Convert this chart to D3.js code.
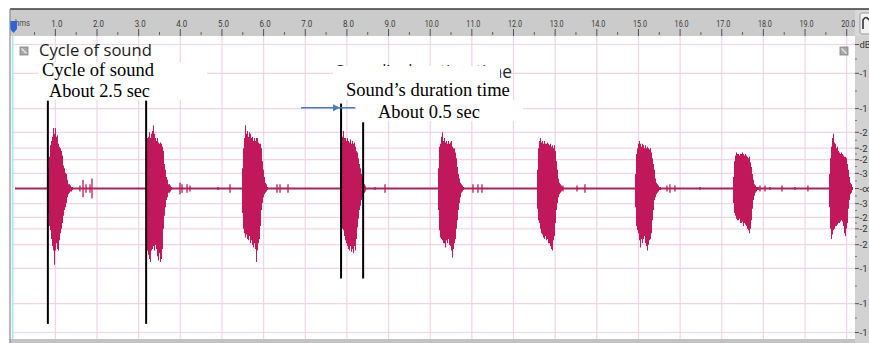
<!DOCTYPE html>
<html><head><meta charset="utf-8">
<script src="https://cdn.jsdelivr.net/npm/d3@7"></script>
<style>html,body{margin:0;padding:0;background:#fff;}svg{display:block;}</style>
</head><body><svg id="c" width="869" height="343"></svg>
<script>
// ---------- DATA ----------
const tickValues = [1,2,3,4,5,6,7,8,9,10,11,12,13,14,15,16,17,18,19,20];
const tickLabels = ["1.0","2.0","3.0","4.0","5.0","6.0","7.0","8.0","9.0","10.0","11.0","12.0","13.0","14.0","15.0","16.0","17.0","18.0","19.0","20.0"];
const dbLevels = [1, 0.8, 0.555, 0.39, 0.28, 0.2, 0.105, 0, -0.105, -0.2, -0.28, -0.39, -0.555, -0.8, -1];
const dbLabels = ["dB","-1","-1","-2","-2","-2","-3","-\u221e","-3","-2","-2","-2","-1","-1","-1"];

const sampleStep = 0.024; // seconds per column
const burstOnsets = [0.800, 3.176, 5.481, 7.834, 10.187, 12.564, 14.917, 17.270, 19.575];
// amplitude envelopes, % of full scale
const burstUpper = [
  [1,14,22,30,33,36,42,38,42,36,37,31,29,28,26,23,16,14,11,10,6,3,3,2,1,1],
  [21,35,36,39,35,38,40,44,38,35,33,35,32,31,32,31,29,26,17,13,8,6,3,3,2,1],
  [14,28,35,44,38,40,36,39,38,35,36,33,35,33,35,35,32,31,31,28,19,13,8,4,3,1],
  [10,28,36,40,35,35,33,35,33,32,34,31,33,31,32,29,26,25,21,17,14,10,8,4,3,1],
  [14,29,31,36,39,33,35,32,33,31,33,31,32,33,29,28,28,25,21,15,10,7,4,3,2,1],
  [13,28,33,35,32,33,31,33,31,31,32,31,30,31,29,30,28,30,26,19,13,7,4,3,2,1],
  [10,24,28,31,33,31,29,31,30,28,30,28,29,28,27,28,25,21,17,13,7,4,3,2,1,1],
  [8,19,23,25,24,24,23,24,24,25,24,23,24,23,22,21,22,18,15,10,6,3,2,1,1,1],
  [10,21,29,35,38,32,31,28,29,26,25,24,25,24,23,22,22,21,17,13,8,4,3,1]
];
const burstLower = [
  [1,17,26,29,35,40,43,53,43,38,42,43,36,31,28,24,19,15,13,10,6,4,3,2,2,1],
  [24,43,46,49,51,43,42,40,43,39,42,47,50,45,51,49,42,28,19,13,8,6,3,3,2,1],
  [17,28,31,34,32,35,36,33,38,36,39,41,38,42,51,43,38,35,26,15,10,6,4,3,2,1],
  [13,24,28,29,33,36,38,40,42,43,40,44,42,45,40,43,35,27,21,15,12,8,6,4,3,1],
  [15,29,34,35,36,38,38,41,36,38,35,39,40,43,48,42,38,35,28,22,15,10,6,3,2,1],
  [14,22,24,28,31,32,34,35,33,36,35,38,38,40,42,43,36,33,24,15,10,6,4,3,2,1],
  [13,26,29,31,36,41,35,38,35,33,38,40,43,39,36,35,31,22,15,8,6,4,3,2,1,1],
  [10,17,19,21,22,22,21,24,24,23,26,24,25,26,28,29,31,28,22,14,8,5,3,2,1,1],
  [13,28,35,32,29,28,26,26,25,24,24,23,22,23,26,31,33,28,24,14,8,4,3,1]
];
const blipTimes = [1.59,1.664,1.736,1.832,1.88,3.993,4.041,4.161,4.233,4.905,5.193,6.322,6.394,6.586,8.435,8.675,8.915,11.027,11.147,11.243,13.188,13.524,13.716,15.685,15.757,15.877,16.477,17.918,18.038,18.158,18.446,18.758,19.07];
const blipAmps  = [2,6,3,3,7,4,3,3,2,1,3,3,3,3,2,1,3,3,3,3,2,2,3,2,3,2,1,2,2,1,2,1,2];

const markerTimes  = [0.82, 3.18, 7.86, 8.39];
const markerTop    = [0.61, 0.61, 0.59, 0.46];
const markerBottom = [-0.94, -0.94, -0.625, -0.625];
const arrowFrom = 6.90, arrowTo = 8.20, arrowTipTime = 7.86, arrowAmp = 0.56;

// ---------- SCALES ----------
const svg = d3.select("#c");
const x = d3.scaleLinear().domain([0, 20]).range([13.7, 846.7]);
const y = d3.scaleLinear().domain([-1, 1]).range([332.5, 44.5]);
const waveColor = "#c0185b";
const gridColor = "#f1d3ec";

// background
svg.append("rect").attr("width",869).attr("height",343).attr("fill","#fff");

// grid
const grid = svg.append("g");
grid.selectAll("line.v").data(tickValues).join("line")
  .attr("x1", d=>x(d)).attr("x2", d=>x(d)).attr("y1",36).attr("y2",339)
  .attr("stroke", gridColor).attr("stroke-width",1.2);
grid.selectAll("line.h").data(dbLevels.filter(d=>d!==0)).join("line")
  .attr("x1",13).attr("x2",855).attr("y1", d=>y(d)).attr("y2", d=>y(d))
  .attr("stroke", gridColor).attr("stroke-width",1.2);

// waveform
svg.append("clipPath").attr("id","wclip").append("rect").attr("x",13).attr("y",36).attr("width",840).attr("height",303);
const wave = svg.append("g").attr("clip-path","url(#wclip)");
wave.append("line").attr("x1", x(0.03)).attr("x2", x(20.2)).attr("y1", y(0)).attr("y2", y(0))
  .attr("stroke","#a3275a").attr("stroke-width",2);
wave.selectAll("line.blip").data(blipTimes).join("line")
  .attr("x1",d=>x(d)).attr("x2",d=>x(d))
  .attr("y1",(d,i)=>y(blipAmps[i]/100)).attr("y2",(d,i)=>y(-blipAmps[i]/100))
  .attr("stroke", waveColor).attr("stroke-width",1.3);
const area = d3.area().curve(d3.curveStepAfter);
burstOnsets.forEach((t0, b) => {
  const pts = burstUpper[b].map((u,i)=>({t: t0 + i*sampleStep, u: u/100, l: burstLower[b][i]/100}));
  pts.push({t: t0 + pts.length*sampleStep, u: 0, l: 0});
  wave.append("path").datum(pts)
    .attr("d", area.x(d=>x(d.t)).y1(d=>y(d.u)).y0(d=>y(-d.l)))
    .attr("fill", waveColor);
});

// app labels (sans)
function fit(sel, w){
  const l = sel.node().getComputedTextLength();
  sel.attr("font-size", parseFloat(sel.attr("font-size")) * w / l);
  return sel;
}
fit(svg.append("text").attr("x",39).attr("y",56).attr("font-family","'Open Sans', 'Noto Sans', sans-serif")
  .attr("font-size",18).attr("fill","#1c1c1c").text("Cycle of sound"), 113);
fit(svg.append("text").attr("x",335).attr("y",78).attr("font-family","'Open Sans', 'Noto Sans', sans-serif")
  .attr("font-size",18).attr("fill","#2a2a2a").text("Sound\u2019s duration time"), 177);

// checkbox icons
[[20,47],[840,47]].forEach(([cx,cy])=>{
  svg.append("rect").attr("x",cx).attr("y",cy).attr("width",8).attr("height",8)
    .attr("fill","#a9a9a9").attr("stroke","#808080").attr("stroke-width",0.8);
  svg.append("line").attr("x1",cx+1.5).attr("y1",cy+1.5).attr("x2",cx+6.5).attr("y2",cy+6.5)
    .attr("stroke","#e8e8e8").attr("stroke-width",1.2);
});

// white annotation boxes
svg.append("rect").attr("x",38).attr("y",62).attr("width",169).attr("height",38).attr("fill","#fff");
svg.append("rect").attr("x",333).attr("y",66).attr("width",167).attr("height",34).attr("fill","#fff");
svg.append("rect").attr("x",356).attr("y",100).attr("width",167).attr("height",21).attr("fill","#fff");

const serif = "'Liberation Serif', 'Times New Roman', serif";
fit(svg.append("text").attr("x",42).attr("y",76).attr("font-family",serif).attr("font-size",17).attr("fill","#000").text("Cycle of sound"),112);
fit(svg.append("text").attr("x",49).attr("y",97).attr("font-family",serif).attr("font-size",17).attr("fill","#000").text("About 2.5 sec"),101);
fit(svg.append("text").attr("x",346).attr("y",96).attr("font-family",serif).attr("font-size",17).attr("fill","#000").text("Sound\u2019s duration time"),164);
fit(svg.append("text").attr("x",378).attr("y",118).attr("font-family",serif).attr("font-size",17).attr("fill","#000").text("About 0.5 sec"),102);

// marker lines
svg.selectAll("line.mk").data(markerTimes).join("line")
  .attr("x1",d=>x(d)).attr("x2",d=>x(d))
  .attr("y1",(d,i)=>y(markerTop[i])).attr("y2",(d,i)=>y(markerBottom[i]))
  .attr("stroke","#000").attr("stroke-width",2);

// blue arrow
const ay = y(arrowAmp), tipX = x(arrowTipTime);
svg.append("line").attr("x1",x(arrowFrom)).attr("x2",x(arrowTo)).attr("y1",ay).attr("y2",ay)
  .attr("stroke","#4a7ebb").attr("stroke-width",1.5);
svg.append("path").attr("d",`M${tipX-1},${ay} L${tipX-8},${ay-3.5} L${tipX-8},${ay+3.5} Z`).attr("fill","#4a7ebb");

// top ruler
svg.append("rect").attr("x",10).attr("y",9).attr("width",859).attr("height",27).attr("fill","#cbcbcb");
svg.append("line").attr("x1",10).attr("x2",869).attr("y1",9).attr("y2",9).attr("stroke","#3c3c3c").attr("stroke-width",1.5);
const halfTicks = tickValues.map(d=>d-0.5);
svg.selectAll("line.mj").data(tickValues).join("line")
  .attr("x1",d=>x(d)).attr("x2",d=>x(d)).attr("y1",29).attr("y2",36).attr("stroke","#505050").attr("stroke-width",1);
svg.selectAll("line.mn").data(halfTicks).join("line")
  .attr("x1",d=>x(d)).attr("x2",d=>x(d)).attr("y1",32).attr("y2",35).attr("stroke","#606060").attr("stroke-width",1);
svg.selectAll("text.tl").data(tickValues).join("text")
  .attr("x",d=>x(d)+1.5).attr("y",27).attr("text-anchor","middle")
  .attr("font-family","Roboto, sans-serif").attr("font-size",9.5).attr("fill","#3a3a3a")
  .attr("textLength",(d,i)=>tickLabels[i].length>3?14:11).attr("lengthAdjust","spacingAndGlyphs")
  .text((d,i)=>tickLabels[i]);
svg.append("text").attr("x",15).attr("y",26).attr("font-family","Roboto, sans-serif").attr("font-size",9)
  .attr("textLength",15).attr("lengthAdjust","spacingAndGlyphs").attr("fill","#4a4a4a").text("hms");
svg.append("path").attr("d","M10,21 L17,21 L17,29 L13.5,33 L10,29 Z").attr("fill","#2f62d6");

// right dB ruler
svg.append("rect").attr("x",855).attr("y",36).attr("width",14).attr("height",307).attr("fill","#d2d2d2");
svg.append("rect").attr("x",855).attr("y",10).attr("width",14).attr("height",26).attr("fill","#d8d8d8");
svg.append("rect").attr("x",860).attr("y",13).attr("width",11).attr("height",21).attr("rx",2)
  .attr("fill","#f2f2f2").attr("stroke","#9a9a9a");
svg.append("path").attr("d","M863,29 V20 Q866,15 869,20").attr("fill","none").attr("stroke","#333").attr("stroke-width",1.6);
const minorDb = d3.pairs(dbLevels).map(([a,b])=>(a+b)/2);
svg.selectAll("line.dbt").data(dbLevels).join("line")
  .attr("x1",855).attr("x2",859).attr("y1",d=>y(d)).attr("y2",d=>y(d)).attr("stroke","#555");
svg.selectAll("line.dbm").data(minorDb).join("line")
  .attr("x1",855).attr("x2",857).attr("y1",d=>y(d)).attr("y2",d=>y(d)).attr("stroke","#777");
svg.selectAll("text.db").data(dbLevels).join("text")
  .attr("x",859.5).attr("y",d=>y(d)+3.5)
  .attr("font-family","Roboto, sans-serif").attr("font-size",9.5).attr("fill","#333")
  .text((d,i)=>dbLabels[i]);

// borders
svg.append("rect").attr("x",10).attr("y",339).attr("width",845).attr("height",4).attr("fill","#c2c2c2");
svg.append("line").attr("x1",10).attr("x2",10).attr("y1",9).attr("y2",343).attr("stroke","#8c8c8c").attr("stroke-width",1.2);
svg.append("line").attr("x1",12.6).attr("x2",12.6).attr("y1",36).attr("y2",339).attr("stroke","#a5e4f2").attr("stroke-width",1.6);
</script></body></html>
